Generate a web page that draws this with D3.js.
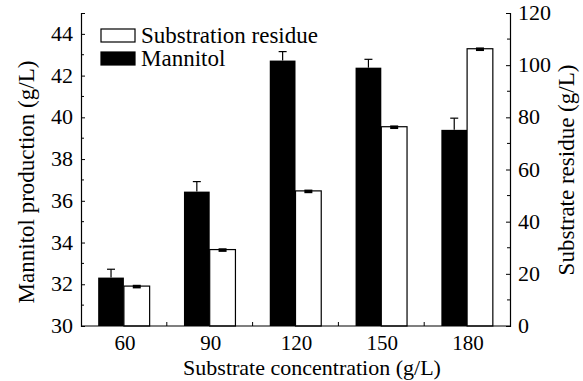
<!DOCTYPE html>
<html>
<head>
<meta charset="utf-8">
<script src="https://cdn.jsdelivr.net/npm/d3@7"></script>
<style>
  body { margin: 0; background: #fff; }
</style>
</head>
<body>
<svg id="chart" width="583" height="381"></svg>
<script>
// data
const concentrations = ['60', '90', '120', '150', '180']
const mannitol = [32.32, 36.44, 42.72, 42.38, 39.40]
const mannitolErr = [0.40, 0.48, 0.43, 0.40, 0.56]
const residue = [15.3, 29.3, 51.8, 76.4, 106.3]
const residueErr = [0.5, 0.5, 0.5, 0.5, 0.5]
const leftTicks = [30, 32, 34, 36, 38, 40, 42, 44]
const rightTicks = [0, 20, 40, 60, 80, 100, 120]

const FONT = 'Liberation Serif'
const svg = d3.select('#chart').attr('font-family', FONT)
const plotL = 81, plotR = 510, plotT = 13, plotB = 326

const x = d3.scaleBand().domain(concentrations).range([plotL, plotR])
const yL = d3.scaleLinear().domain([30, 45]).range([plotB, plotT])
const yR = d3.scaleLinear().domain([0, 120]).range([plotB, plotT])
const barW = x.bandwidth() * 0.3

const g = svg.append('g')

// mannitol bars (black, left axis)
g.selectAll('.man').data(concentrations).enter().append('rect')
  .attr('x', d => x(d) + x.bandwidth() / 2 - barW)
  .attr('y', (d, i) => yL(mannitol[i]))
  .attr('width', barW)
  .attr('height', (d, i) => plotB - yL(mannitol[i]))
  .attr('fill', '#000')

// residue bars (white, right axis)
g.selectAll('.res').data(concentrations).enter().append('rect')
  .attr('x', d => x(d) + x.bandwidth() / 2)
  .attr('y', (d, i) => yR(residue[i]))
  .attr('width', barW)
  .attr('height', (d, i) => plotB - yR(residue[i]))
  .attr('fill', '#fff')
  .attr('stroke', '#000')
  .attr('stroke-width', 1.2)

// error bars
concentrations.forEach((d, i) => {
  const cx = x(d) + x.bandwidth() / 2 - barW / 2
  g.append('line').attr('x1', cx).attr('x2', cx)
    .attr('y1', yL(mannitol[i])).attr('y2', yL(mannitol[i] + mannitolErr[i]))
    .attr('stroke', '#000').attr('stroke-width', 1.2)
  g.append('line').attr('x1', cx - 4).attr('x2', cx + 4)
    .attr('y1', yL(mannitol[i] + mannitolErr[i])).attr('y2', yL(mannitol[i] + mannitolErr[i]))
    .attr('stroke', '#000').attr('stroke-width', 1.2)

  const rx = x(d) + x.bandwidth() / 2 + barW / 2
  g.append('rect').attr('x', rx - 4).attr('width', 8)
    .attr('y', yR(residue[i] + residueErr[i]))
    .attr('height', yR(residue[i] - residueErr[i]) - yR(residue[i] + residueErr[i]) + 1)
    .attr('fill', '#000')
})

// axes
const leftAxis = d3.axisLeft(yL).tickValues(leftTicks).tickSize(-4).tickPadding(8)
const rightAxis = d3.axisRight(yR).tickValues(rightTicks).tickSize(-4).tickPadding(8)

const gl = svg.append('g').attr('transform', `translate(${plotL},0)`).call(leftAxis)
const gr = svg.append('g').attr('transform', `translate(${plotR},0)`).call(rightAxis)

// minor ticks
svg.append('g').selectAll('line').data(d3.range(31, 45, 2)).enter().append('line')
  .attr('x1', plotL).attr('x2', plotL + 3)
  .attr('y1', d => yL(d)).attr('y2', d => yL(d))
  .attr('stroke', '#000')
svg.append('g').selectAll('line').data(d3.range(10, 120, 20)).enter().append('line')
  .attr('x1', plotR).attr('x2', plotR - 3)
  .attr('y1', d => yR(d)).attr('y2', d => yR(d))
  .attr('stroke', '#000')

// bottom axis
svg.append('line').attr('x1', plotL).attr('x2', plotR).attr('y1', plotB).attr('y2', plotB)
  .attr('stroke', '#000').attr('stroke-width', 1.2)
svg.append('g').selectAll('line').data(concentrations.slice(1)).enter().append('line')
  .attr('x1', d => x(d)).attr('x2', d => x(d))
  .attr('y1', plotB).attr('y2', plotB - 4)
  .attr('stroke', '#000')
svg.append('g').selectAll('text').data(concentrations).enter().append('text')
  .attr('x', d => x(d) + x.bandwidth() / 2 + 1)
  .attr('y', 350)
  .attr('text-anchor', 'middle')
  .attr('font-family', FONT)
  .attr('font-size', 21)
  .text(d => d)

;[gl, gr].forEach(a => {
  a.attr('font-family', FONT)
  a.select('.domain').attr('stroke', '#000').attr('stroke-width', 1.2)
  a.selectAll('.tick line').attr('stroke', '#000')
  a.selectAll('.tick text').attr('font-size', 22).attr('font-family', FONT).attr('dy', '0.3em')
})

// axis titles
svg.append('text').attr('x', 312).attr('y', 375)
  .attr('text-anchor', 'middle').attr('font-size', 22).attr('font-family', FONT)
  .text('Substrate concentration (g/L)')
svg.append('text').attr('transform', 'translate(34,182) rotate(-90)')
  .attr('text-anchor', 'middle').attr('font-size', 23).attr('font-family', FONT)
  .text('Mannitol production (g/L)')
svg.append('text').attr('transform', 'translate(574,170) rotate(-90)')
  .attr('text-anchor', 'middle').attr('font-size', 23).attr('font-family', FONT)
  .text('Substrate  residue (g/L)')

// legend
const legend = [
  { label: 'Substration residue', fill: '#fff' },
  { label: 'Mannitol', fill: '#000' }
]
const lg = svg.append('g').selectAll('g').data(legend).enter().append('g')
  .attr('transform', (d, i) => `translate(101,${29 + i * 23})`)
lg.append('rect').attr('width', 34).attr('height', 13)
  .attr('fill', d => d.fill).attr('stroke', '#000').attr('stroke-width', 1.2)
lg.append('text').attr('x', 40).attr('y', 14).attr('font-size', 23)
  .attr('font-family', FONT).text(d => d.label)
</script>
</body>
</html>
